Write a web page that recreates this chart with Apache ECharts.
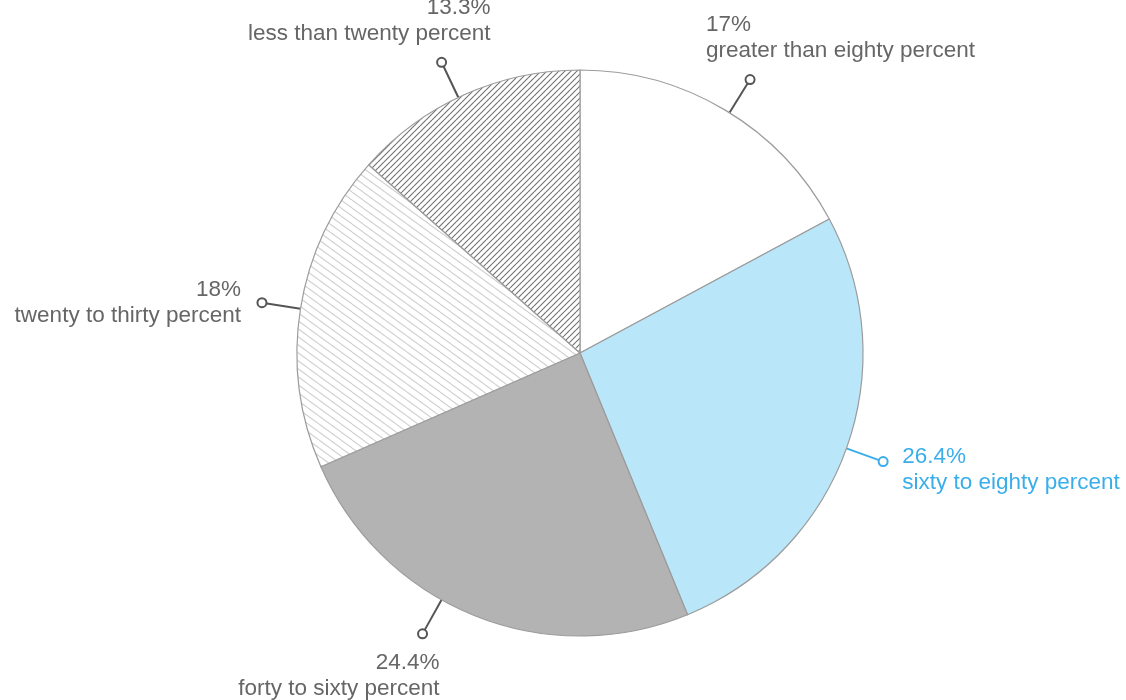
<!DOCTYPE html>
<html>
<head>
<meta charset="utf-8">
<script src="https://cdn.jsdelivr.net/npm/echarts@6/dist/echarts.min.js"></script>
<style>
  html, body { margin: 0; padding: 0; background: #ffffff; }
  #chart { width: 1126px; height: 700px; }
</style>
</head>
<body>
<div id="chart"></div>
<script>
// Share of respondents per band (percent), clockwise from 12 o'clock
const categories = [
  'greater than eighty percent',
  'sixty to eighty percent',
  'forty to sixty percent',
  'twenty to thirty percent',
  'less than twenty percent'
];
const shares = [17, 26.4, 24.4, 18, 13.3];

// Small repeating tile with one diagonal stroke, used as a hatch fill
function hatch(w, h, stroke, lineWidth, descending) {
  const c = document.createElement('canvas');
  c.width = w; c.height = h;
  const g = c.getContext('2d');
  g.fillStyle = '#ffffff';
  g.fillRect(0, 0, w, h);
  g.strokeStyle = stroke;
  g.lineWidth = lineWidth;
  g.beginPath();
  for (let k = -1; k <= 1; k++) {
    if (descending) {
      g.moveTo(0, k * h); g.lineTo(w, (k + 1) * h);
    } else {
      g.moveTo(0, (k + 1) * h); g.lineTo(w, k * h);
    }
  }
  g.stroke();
  return { image: c, repeat: 'repeat' };
}

const fills = [
  '#ffffff',
  '#bae6f9',
  '#b3b3b3',
  hatch(11, 8, '#cfcfcf', 1.1, true),
  hatch(6, 6, '#767676', 1.2, false)
];
const leaderColors = ['#555555', '#3aaeea', '#555555', '#555555', '#555555'];
const textColors = ['#666666', '#3aaeea', '#666666', '#666666', '#666666'];

// Leader tweaks: angular shift (degrees) and text placement around the leader's ring
const leaderNudge = [1, 0, 7.3, 0, -1.3];
const textPlacement = [
  { dx: -44, dy: -15.5, align: 'left',  va: 'bottom' },
  { dx: 19,  dy: 8,     align: 'left',  va: 'middle' },
  { dx: 17,  dy: 16,    align: 'right', va: 'top' },
  { dx: -21, dy: 0.5,   align: 'right', va: 'middle' },
  { dx: 49,  dy: -15,   align: 'right', va: 'bottom' }
];

const chart = echarts.init(document.getElementById('chart'), null, { renderer: 'canvas' });

// Leader geometry taken from the pie's own sector layout
function leader(idx) {
  const lay = chart.getModel().getSeriesByIndex(0).getData().getItemLayout(idx);
  const a = (lay.startAngle + lay.endAngle) / 2 + leaderNudge[idx] * Math.PI / 180;
  const pt = (r) => [lay.cx + r * Math.cos(a), lay.cy + r * Math.sin(a)];
  return { start: pt(lay.r), ring: pt(lay.r + 39) };
}

const sliceData = categories.map((name, i) => ({
  name: name,
  value: shares[i],
  itemStyle: { color: fills[i] },
  label: { rich: { ring: { borderColor: leaderColors[i] } } },
  labelLine: { lineStyle: { color: leaderColors[i] } }
}));

const textData = categories.map((name, i) => ({
  name: name,
  value: shares[i],
  label: { color: textColors[i] }
}));

const center = [580, 353];
const radius = 283;

chart.setOption({
  animation: false,
  backgroundColor: '#ffffff',
  series: [
    {
      type: 'pie',
      center: center,
      radius: radius,
      startAngle: 90,
      clockwise: true,
      avoidLabelOverlap: false,
      emphasis: { disabled: true },
      itemStyle: { borderColor: '#9c9c9c', borderWidth: 1.2 },
      label: {
        show: true,
        position: 'outside',
        formatter: '{ring|}',
        rich: {
          ring: {
            width: 7, height: 7, lineHeight: 7,
            borderRadius: 5, borderWidth: 2,
            backgroundColor: '#ffffff'
          }
        }
      },
      labelLine: { show: true, length: 30, length2: 0, smooth: false, lineStyle: { width: 2 } },
      labelLayout: function (p) {
        const L = leader(p.dataIndex);
        return {
          x: L.ring[0], y: L.ring[1], align: 'center', verticalAlign: 'middle',
          labelLinePoints: [L.start, L.ring, L.ring]
        };
      },
      data: sliceData
    },
    {
      type: 'pie',
      center: center,
      radius: radius,
      startAngle: 90,
      clockwise: true,
      silent: true,
      avoidLabelOverlap: false,
      emphasis: { disabled: true },
      itemStyle: { color: 'rgba(0,0,0,0)', borderWidth: 0 },
      label: {
        show: true,
        position: 'outside',
        formatter: '{c}%\n{b}',
        fontFamily: '"Liberation Sans", Arial, Helvetica, sans-serif',
        fontSize: 22.5,
        lineHeight: 26
      },
      labelLine: { show: false },
      labelLayout: function (p) {
        const L = leader(p.dataIndex);
        const t = textPlacement[p.dataIndex];
        return {
          x: L.ring[0] + t.dx, y: L.ring[1] + t.dy,
          align: t.align, verticalAlign: t.va
        };
      },
      data: textData
    }
  ]
});
</script>
</body>
</html>
